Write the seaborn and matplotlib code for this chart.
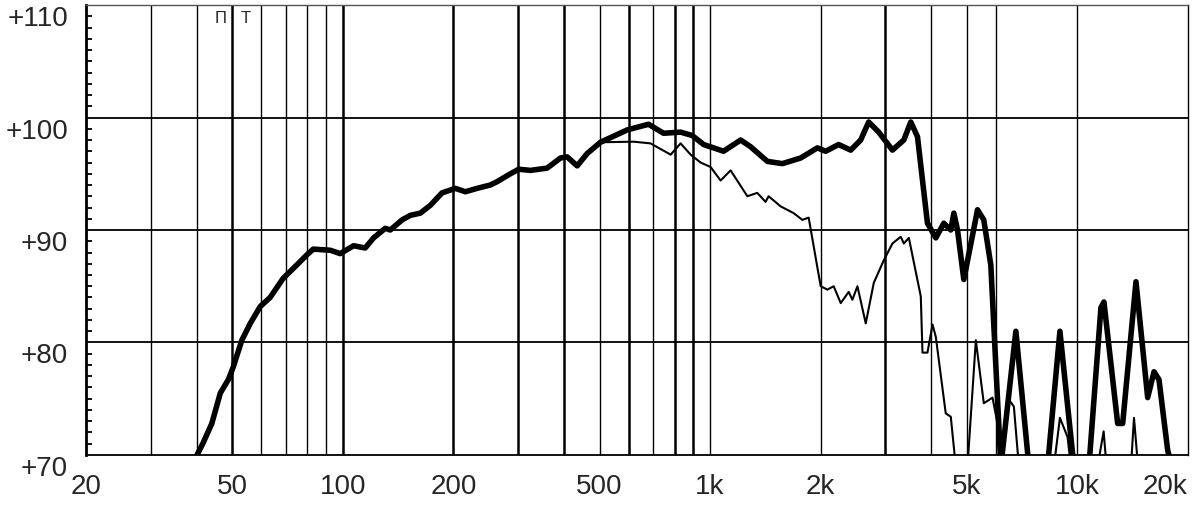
import numpy as np
import pandas as pd
import matplotlib
matplotlib.use("Agg")
import matplotlib.pyplot as plt
import matplotlib.transforms as mtransforms
from matplotlib.ticker import MultipleLocator, NullLocator
import seaborn as sns

# both curves share the low end (they sit on top of each other below ~500 Hz)
low_freq = [38.5, 40.1, 41.7, 44.0, 46.4, 48.8, 50.3, 53.1, 56.0, 59.6,
            63.4, 68.8, 75.0, 79.9, 83.1, 92.5, 98.4, 107.0, 115.1, 121.3,
            130.5, 134.7, 145.0, 152.7, 162.6, 173.2, 186.3, 202.5, 215.6, 232,
            252.2, 263.2, 286, 301.4, 324.3, 360, 391.4, 408.2, 434.6, 462.8, 503]
low_db = [69.0, 70.0, 71.1, 72.8, 75.5, 76.7, 77.8, 80.2, 81.7, 83.2,
          84.0, 85.7, 86.9, 87.8, 88.3, 88.2, 87.9, 88.6, 88.4, 89.3,
          90.15, 90.0, 90.9, 91.3, 91.5, 92.2, 93.3, 93.7, 93.4, 93.7,
          94.0, 94.3, 95.0, 95.4, 95.3, 95.5, 96.4, 96.5, 95.7, 96.8, 97.8]

# thick curve above 500 Hz
thick_freq = [595, 680, 747, 831, 894, 960, 1088, 1211, 1289, 1432,
              1573, 1764, 1959, 2064, 2238, 2414, 2570, 2702, 2878, 3136,
              3368, 3518, 3669, 3906, 4116, 4327, 4521, 4608, 4716, 4906,
              5346, 5560, 5810, 6188, 6798, 7378, 8294, 8960, 9780, 10748,
              11588, 11808, 12870, 13280, 14434, 15534, 16164, 16674, 17610, 18100]
thick_db = [98.9, 99.4, 98.6, 98.7, 98.4, 97.6, 97.0, 98.0, 97.4, 96.1,
            95.9, 96.4, 97.3, 97.0, 97.6, 97.1, 98.0, 99.6, 98.7, 97.1,
            98.0, 99.6, 98.3, 90.6, 89.3, 90.6, 90.0, 91.5, 90.0, 85.6,
            91.8, 90.9, 86.9, 69.0, 81.0, 69.0, 69.0, 81.0, 69.0, 69.0,
            83.1, 83.6, 72.8, 72.8, 85.4, 75.1, 77.4, 76.7, 70.4, 69.0]

# thin curve above 500 Hz
thin_freq = [619, 688, 781, 831, 885, 942, 1003, 1068, 1137, 1263,
             1344, 1416, 1443, 1556, 1688, 1783, 1855, 2000, 2086, 2170,
             2268, 2384, 2440, 2518, 2653, 2790, 2970, 3136, 3304, 3368,
             3476, 3746, 3786, 3906, 4032, 4116, 4380, 4521, 4664, 5020,
             5290, 5560, 5873, 6060, 6260, 6453, 6714, 6928, 8630, 8960,
             9400, 9600, 11350, 11786, 12000, 13990, 14256, 14620]
thin_db = [97.85, 97.7, 96.7, 97.7, 96.7, 96.0, 95.6, 94.4, 95.3, 93.0,
           93.3, 92.5, 93.0, 92.1, 91.5, 90.9, 91.1, 85.0, 84.7, 85.0,
           83.5, 84.5, 83.8, 85.0, 81.7, 85.3, 87.3, 88.8, 89.4, 88.8,
           89.3, 84.1, 79.1, 79.1, 81.6, 80.5, 73.7, 73.4, 69.0, 69.0,
           80.2, 74.6, 75.1, 72.8, 69.0, 75.1, 74.3, 69.0, 69.0, 73.3,
           71.6, 69.0, 69.0, 72.1, 69.0, 69.0, 73.3, 69.0]

x_ticks = [20, 50, 100, 200, 500, 1000, 2000, 5000, 10000, 20000]
x_labels = ["20", "50", "100", "200", "500", "1k", "2k", "5k", "10k", "20k"]
y_ticks = [70, 80, 90, 100, 110]
y_labels = ["+70", "+80", "+90", "+100", "+110"]

grid_freqs = [30, 40, 50, 60, 70, 80, 90, 100, 200, 300, 400, 500, 600,
              700, 800, 900, 1000, 2000, 3000, 4000, 5000, 6000, 10000]
heavy_freqs = [50, 100, 200, 300, 400, 600, 800, 900, 3000]

df = pd.concat([
    pd.DataFrame({"freq": low_freq + thin_freq, "spl": low_db + thin_db, "curve": "thin"}),
    pd.DataFrame({"freq": low_freq + thick_freq, "spl": low_db + thick_db, "curve": "thick"}),
], ignore_index=True)

sns.set_style("white")
plt.rcParams["font.family"] = ["Liberation Sans", "DejaVu Sans"]

fig = plt.figure(figsize=(12, 5.11), dpi=100)
ax = fig.add_axes([0.0717, 0.1096, 0.9183, 0.8806])
ax.set_xscale("log")

# grid
for f in grid_freqs:
    ax.axvline(f, color="black", lw=1.8 if f in heavy_freqs else 1.0, zorder=1)
for v in [80, 90, 100]:
    ax.axhline(v, color="black", lw=1.3, zorder=1)

sns.lineplot(data=df[df.curve == "thin"], x="freq", y="spl", color="black",
             linewidth=1.5, sort=False, estimator=None, ax=ax, zorder=3)
sns.lineplot(data=df[df.curve == "thick"], x="freq", y="spl", color="black",
             linewidth=4.0, sort=False, estimator=None, ax=ax, zorder=4,
             solid_joinstyle="round", solid_capstyle="round")

ax.set_xlim(20, 20000)
ax.set_ylim(70, 110)
ax.set_xlabel("")
ax.set_ylabel("")

ax.set_xticks(x_ticks)
ax.set_xticklabels(x_labels, fontsize=20)
ax.xaxis.set_minor_locator(NullLocator())
ax.tick_params(axis="x", which="major", length=0, pad=14)
ax.get_xticklabels()[-1].set_ha("right")

ax.set_yticks(y_ticks)
ax.set_yticklabels(y_labels, fontsize=20)
ax.yaxis.set_minor_locator(MultipleLocator(1))
ax.tick_params(axis="y", which="major", length=0, pad=13)
ax.tick_params(axis="y", which="minor", direction="in", length=4.5,
               width=1.3, left=True, color="black")
shift = mtransforms.ScaledTranslation(0, -11 / 100, fig.dpi_scale_trans)
for lab in ax.get_yticklabels():
    lab.set_transform(lab.get_transform() + shift)

for side, w, c in [("left", 2.0, "black"), ("bottom", 1.3, "black"),
                   ("right", 1.0, "black"), ("top", 1.0, "#555555")]:
    ax.spines[side].set_visible(True)
    ax.spines[side].set_linewidth(w)
    ax.spines[side].set_color(c)

# small markers at the top near 50 Hz
ax.text(46.6, 108.8, "Π", fontsize=12, ha="center", va="center")
ax.text(54.3, 108.8, "T", fontsize=12, ha="center", va="center")

fig.savefig("out.png", dpi=100)
